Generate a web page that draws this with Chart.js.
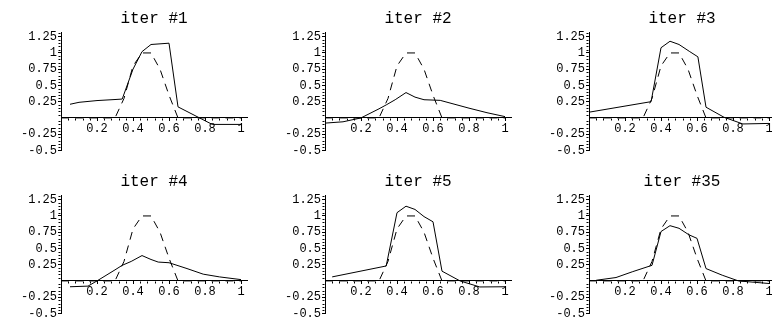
<!DOCTYPE html>
<html>
<head>
<title>iter</title>
<script src="https://cdn.jsdelivr.net/npm/chart.js"></script>
<style>
    body {
        margin: 0;
        background: #fff;
        width: 772px;
        height: 322px;
        overflow: hidden;
        position: relative;
    }

    .panel {
        position: absolute;
        width: 264px;
        height: 163px;
    }
</style>
</head>
<body>
<div class="panel" style="left:0;top:0"><canvas id="c1" width="264" height="163"></canvas></div>
<div class="panel" style="left:264px;top:0"><canvas id="c2" width="264" height="163"></canvas></div>
<div class="panel" style="left:528px;top:0"><canvas id="c3" width="264" height="163"></canvas></div>
<div class="panel" style="left:0;top:163px"><canvas id="c4" width="264" height="163"></canvas></div>
<div class="panel" style="left:264px;top:163px"><canvas id="c5" width="264" height="163"></canvas></div>
<div class="panel" style="left:528px;top:163px"><canvas id="c6" width="264" height="163"></canvas></div>

<script>
    // data
    const titles = ['iter #1', 'iter #2', 'iter #3', 'iter #4', 'iter #5', 'iter #35'];

    // target (dashed)
    const targetX = [0, 0.3, 0.35, 0.4, 0.45, 0.5, 0.55, 0.6, 0.65, 1];
    const targetY = [0, 0, 0.3, 0.8, 1, 1, 0.75, 0.35, 0, 0];

    // iterations (solid)
    const iter1X = [0.05, 0.1, 0.2, 0.3, 0.34, 0.4, 0.45, 0.5, 0.6, 0.65, 0.84, 1];
    const iter1Y = [0.21, 0.24, 0.267, 0.283, 0.29, 0.75, 1.02, 1.13, 1.15, 0.17, -0.1, -0.1];

    const iter2X = [0, 0.1, 0.2, 0.3, 0.34, 0.39, 0.45, 0.5, 0.55, 0.64, 0.8, 0.9, 1];
    const iter2Y = [-0.08, -0.06, 0, 0.14, 0.2, 0.28, 0.39, 0.32, 0.28, 0.27, 0.15, 0.08, 0.02];

    const iter3X = [0, 0.345, 0.4, 0.45, 0.5, 0.56, 0.605, 0.65, 0.75, 0.855, 1];
    const iter3Y = [0.088, 0.25, 1.08, 1.18, 1.13, 1.02, 0.94, 0.165, 0.01, -0.093, -0.085];

    const iter4X = [0.05, 0.15, 0.2, 0.3, 0.34, 0.39, 0.45, 0.5, 0.54, 0.6, 0.7, 0.79, 0.88, 1];
    const iter4Y = [-0.09, -0.08, 0, 0.17, 0.24, 0.3, 0.39, 0.33, 0.29, 0.28, 0.19, 0.104, 0.062, 0.02];

    const iter5X = [0.04, 0.34, 0.4, 0.45, 0.5, 0.55, 0.6, 0.65, 0.75, 0.86, 1];
    const iter5Y = [0.062, 0.23, 1.05, 1.15, 1.1, 0.99, 0.91, 0.15, 0, -0.093, -0.09];

    const iter35X = [0.04, 0.15, 0.24, 0.35, 0.4, 0.45, 0.5, 0.555, 0.6, 0.65, 0.74, 0.83, 1];
    const iter35Y = [0.01, 0.052, 0.14, 0.24, 0.76, 0.85, 0.81, 0.71, 0.655, 0.19, 0.088, 0, -0.04];

    const xTicks = [0.2, 0.4, 0.6, 0.8, 1];
    const yTicks = [-0.5, -0.25, 0.25, 0.5, 0.75, 1, 1.25];

    const panels = [
        { id: 'c1', title: titles[0], xs: iter1X, ys: iter1Y },
        { id: 'c2', title: titles[1], xs: iter2X, ys: iter2Y },
        { id: 'c3', title: titles[2], xs: iter3X, ys: iter3Y },
        { id: 'c4', title: titles[3], xs: iter4X, ys: iter4Y },
        { id: 'c5', title: titles[4], xs: iter5X, ys: iter5Y },
        { id: 'c6', title: titles[5], xs: iter35X, ys: iter35Y }
    ];

    function toPoints(xs, ys) {
        return xs.map((x, i) => ({ x: x, y: ys[i] }));
    }

    // small minor ticks like Mathematica axes
    const minorTicks = {
        id: 'minorTicks',
        afterDraw(chart) {
            const ctx = chart.ctx;
            const sx = chart.scales.x;
            const sy = chart.scales.y;
            const y0 = Math.round(sy.getPixelForValue(0)) + 0.5;
            const xl = Math.round(chart.chartArea.left) - 0.5;
            ctx.save();
            ctx.strokeStyle = '#000';
            ctx.lineWidth = 1;
            ctx.beginPath();
            for (let i = 1; i * 0.04 <= sx.max; i++) {
                if (i % 5 === 0) continue;
                const p = Math.round(sx.getPixelForValue(i * 0.04)) + 0.5;
                ctx.moveTo(p, y0);
                ctx.lineTo(p, y0 + 2);
            }
            for (let i = -10; i * 0.05 <= sy.max; i++) {
                if (i % 5 === 0) continue;
                const p = Math.round(sy.getPixelForValue(i * 0.05)) + 0.5;
                ctx.moveTo(xl, p);
                ctx.lineTo(xl - 2, p);
            }
            ctx.stroke();
            ctx.restore();
        }
    };

    const tickFont = { family: 'Liberation Mono', size: 12 };

    panels.forEach(p => {
        new Chart(document.getElementById(p.id), {
            type: 'scatter',
            data: {
                datasets: [{
                    data: toPoints(targetX, targetY),
                    showLine: true,
                    borderColor: '#000',
                    borderWidth: 1,
                    borderDash: [8, 6],
                    pointRadius: 0
                }, {
                    data: toPoints(p.xs, p.ys),
                    showLine: true,
                    borderColor: '#000',
                    borderWidth: 1,
                    pointRadius: 0
                }]
            },
            options: {
                responsive: false,
                animation: false,
                layout: { padding: { left: 0, right: 17, top: 0, bottom: 12.6 } },
                plugins: {
                    legend: { display: false },
                    tooltip: { enabled: false },
                    title: {
                        display: true,
                        text: p.title,
                        fullSize: false,
                        color: '#000',
                        font: { family: 'Liberation Mono', size: 16, weight: 'normal' },
                        padding: { top: 9.4, bottom: 4.2 }
                    }
                },
                scales: {
                    x: {
                        type: 'linear',
                        position: { y: 0 },
                        min: 0,
                        max: 1.0333,
                        afterBuildTicks: s => { s.ticks = xTicks.map(v => ({ value: v })); },
                        grid: { display: true, drawOnChartArea: false, drawTicks: true, tickLength: 3, color: '#000' },
                        border: { display: true, color: '#000', width: 1 },
                        ticks: {
                            autoSkip: false,
                            maxRotation: 0,
                            padding: 1,
                            color: '#000',
                            font: tickFont,
                            callback: v => String(v)
                        }
                    },
                    y: {
                        type: 'linear',
                        position: 'left',
                        min: -0.5,
                        max: 1.31,
                        afterFit: s => { s.width = 61; },
                        afterBuildTicks: s => { s.ticks = yTicks.map(v => ({ value: v })); },
                        grid: { display: true, drawOnChartArea: false, drawTicks: true, tickLength: 3, color: '#000' },
                        border: { display: true, color: '#000', width: 1 },
                        ticks: {
                            autoSkip: false,
                            padding: 1,
                            color: '#000',
                            font: tickFont,
                            callback: v => String(v)
                        }
                    }
                }
            },
            plugins: [minorTicks]
        });
    });
</script>
</body>
</html>
